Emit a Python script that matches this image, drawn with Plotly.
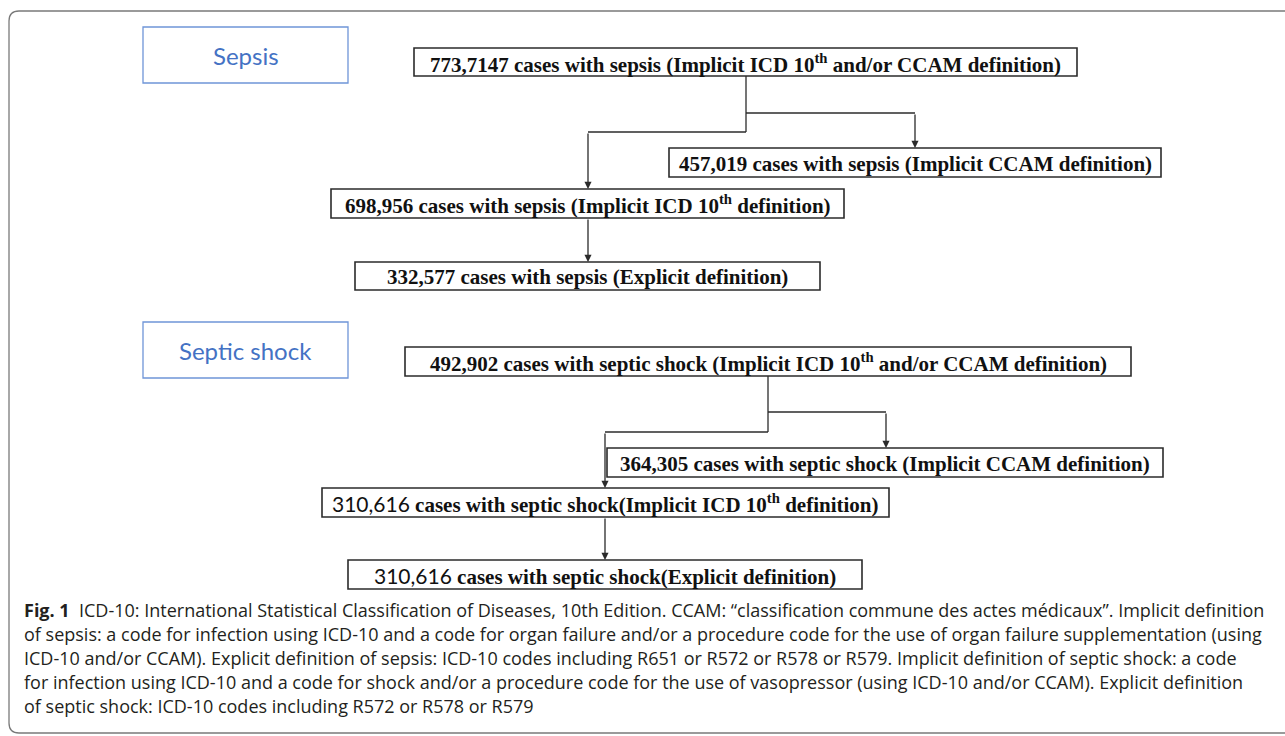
import plotly.graph_objects as go

W, H = 1285, 736

# flowchart content
sepsis_counts = ["773,7147", "457,019", "698,956", "332,577"]
sepsis_defs = ["sepsis (Implicit ICD 10<sup>th</sup> and/or CCAM definition)",
               "sepsis (Implicit CCAM definition)",
               "sepsis (Implicit ICD 10<sup>th</sup> definition)",
               "sepsis (Explicit definition)"]
shock_counts = ["492,902", "364,305", "310,616", "310,616"]
shock_defs = ["septic shock (Implicit ICD 10<sup>th</sup> and/or CCAM definition)",
              "septic shock (Implicit CCAM definition)",
              "septic shock(Implicit ICD 10<sup>th</sup> definition)",
              "septic shock(Explicit definition)"]
# counts drawn in a plain sans face in the original
shock_plain = [False, False, True, True]
section_titles = ["Sepsis", "Septic shock"]

caption_lines = [
    "<b>Fig. 1</b>  ICD-10: International Statistical Classification of Diseases, 10th Edition. CCAM: \u201cclassification commune des actes m\u00e9dicaux\u201d. Implicit definition",
    "of sepsis: a code for infection using ICD-10 and a code for organ failure and/or a procedure code for the use of organ failure supplementation (using",
    "ICD-10 and/or CCAM). Explicit definition of sepsis: ICD-10 codes including R651 or R572 or R578 or R579. Implicit definition of septic shock: a code",
    "for infection using ICD-10 and a code for shock and/or a procedure code for the use of vasopressor (using ICD-10 and/or CCAM). Explicit definition",
    "of septic shock: ICD-10 codes including R572 or R578 or R579",
]

# layout (pixel boxes x0, x1, y0, y1)
title_boxes = [(143, 348, 27, 83), (143, 348, 322, 378)]
sepsis_boxes = [(414, 1077, 48, 76), (669, 1161, 148, 177),
                (331, 844, 189, 218), (355, 820, 262, 290)]
shock_boxes = [(405, 1131, 347, 376), (607, 1163, 448, 477),
               (322, 889, 488, 517), (348, 862, 560, 589)]
# branch: stem x, right split y, right x, left split y, left x
sepsis_branch = (746, 113, 915, 132, 588)
shock_branch = (768, 412, 886, 432, 605)

fig = go.Figure()
shapes = []
annotations = []

# outer frame (rounded, cut by the page edge on the right)
r = 10
x0, y0, x1, y1 = 9, 11, 1310, 733
frame = (f"M {x0+r},{y0} L {x1},{y0} L {x1},{y1} L {x0+r},{y1} "
         f"Q {x0},{y1} {x0},{y1-r} L {x0},{y0+r} Q {x0},{y0} {x0+r},{y0} Z")
shapes.append(dict(type="path", path=frame, xref="x", yref="y",
                   line=dict(color="#7a7a7a", width=1.3)))

for (bx0, bx1, by0, by1), t in zip(title_boxes, section_titles):
    shapes.append(dict(type="rect", x0=bx0, x1=bx1, y0=by0, y1=by1, xref="x", yref="y",
                       line=dict(color="#6f95d8", width=1.3), fillcolor="white"))
    annotations.append(dict(x=(bx0 + bx1) / 2, y=(by0 + by1) / 2, text=t, showarrow=False,
                            xref="x", yref="y",
                            font=dict(family="Lato", size=24, color="#4472C4")))


def add_boxes(boxes, counts, defs, plain):
    for (bx0, bx1, by0, by1), c, d, p in zip(boxes, counts, defs, plain):
        shapes.append(dict(type="rect", x0=bx0, x1=bx1, y0=by0, y1=by1, xref="x", yref="y",
                           line=dict(color="#2b2b2b", width=1.6), fillcolor="white"))
        if p:
            txt = f"<span style='font-family:Lato;font-weight:normal'>{c}</span> <b>cases with {d}</b>"
        else:
            txt = f"<b>{c} cases with {d}</b>"
        annotations.append(dict(x=(bx0 + bx1) / 2, y=(by0 + by1) / 2 + 1, text=txt,
                                showarrow=False, xref="x", yref="y",
                                font=dict(family="Liberation Serif", size=21, color="#111111")))


def add_tree(boxes, branch):
    sx, ry, rx, ly, lx = branch
    top = boxes[0]
    lc = dict(color="#2b2b2b", width=1.3)
    shapes.append(dict(type="line", x0=sx, x1=sx, y0=top[3], y1=ly, xref="x", yref="y", line=lc))
    shapes.append(dict(type="line", x0=sx, x1=rx, y0=ry, y1=ry, xref="x", yref="y", line=lc))
    shapes.append(dict(type="line", x0=sx, x1=lx, y0=ly, y1=ly, xref="x", yref="y", line=lc))
    arrows = [(rx, ry, boxes[1][2]), (lx, ly, boxes[2][2]), (lx, boxes[2][3], boxes[3][2])]
    for ax_, y_from, y_to in arrows:
        annotations.append(dict(x=ax_, y=y_to, ax=ax_, ay=y_from, xref="x", yref="y",
                                axref="x", ayref="y", text="", showarrow=True,
                                arrowhead=2, arrowsize=1.1, arrowwidth=1.3,
                                arrowcolor="#2b2b2b"))


add_tree(sepsis_boxes, sepsis_branch)
add_tree(shock_boxes, shock_branch)
add_boxes(sepsis_boxes, sepsis_counts, sepsis_defs, [False] * 4)
add_boxes(shock_boxes, shock_counts, shock_defs, shock_plain)

# caption
for i, line in enumerate(caption_lines):
    annotations.append(dict(x=22, y=610 + 24 * i, text=line, showarrow=False,
                            xref="x", yref="y", xanchor="left", yanchor="middle",
                            font=dict(family="Open Sans", size=18, color="#231f20")))

fig.update_layout(
    width=W, height=H, autosize=False,
    margin=dict(l=0, r=0, t=0, b=0),
    paper_bgcolor="white", plot_bgcolor="white",
    shapes=shapes, annotations=annotations, showlegend=False,
    xaxis=dict(range=[0, W], visible=False, fixedrange=True),
    yaxis=dict(range=[H, 0], visible=False, fixedrange=True),
)

fig.write_html("out.html", config={"displayModeBar": False},
               post_script="document.body.style.margin='0';")
